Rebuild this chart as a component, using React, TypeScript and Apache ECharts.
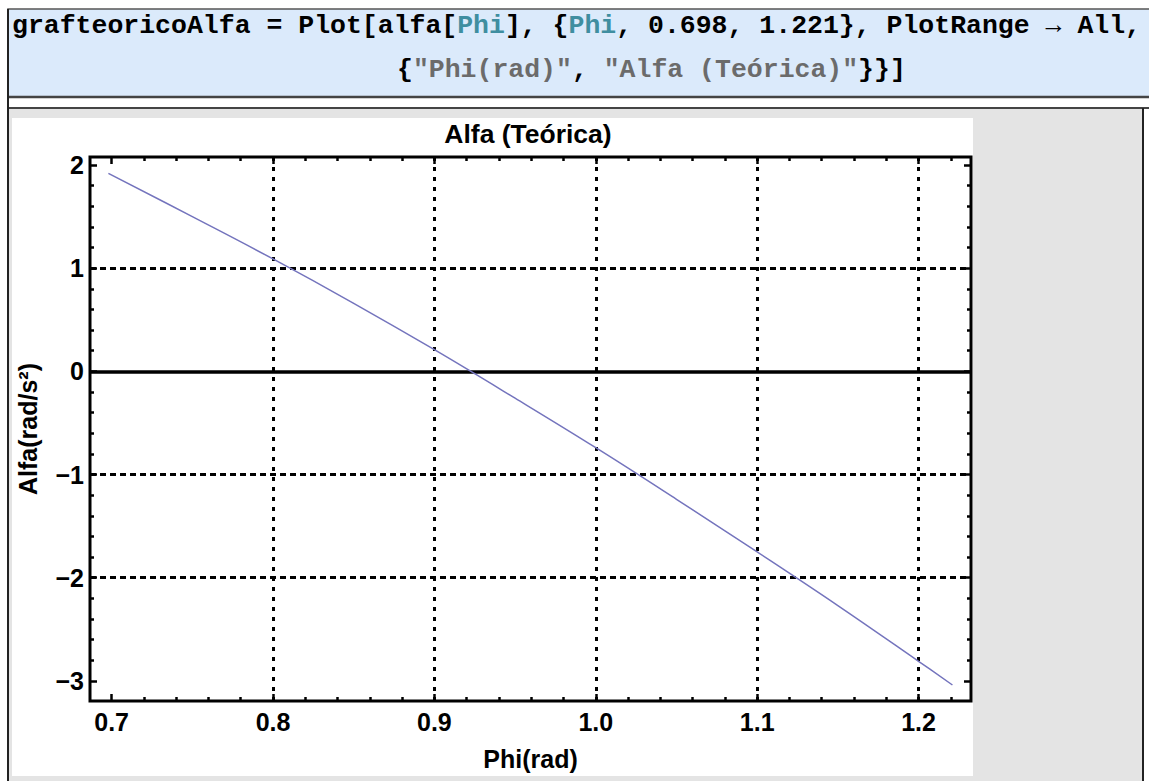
import React, { useEffect, useRef } from "react";
import * as echarts from "echarts";

// ---- data ----
const phiValues = [0.698, 0.75, 0.8, 0.85, 0.9, 0.95, 1.0, 1.05, 1.1, 1.15, 1.2, 1.221];
const alfaValues = [1.92, 1.5, 1.09, 0.66, 0.21, -0.26, -0.74, -1.24, -1.75, -2.27, -2.81, -3.04];
const xMajorTicks = [0.7, 0.8, 0.9, 1.0, 1.1, 1.2];
const xMinorTicks = [0.72, 0.74, 0.76, 0.78, 0.82, 0.84, 0.86, 0.88, 0.92, 0.94, 0.96, 0.98, 1.02, 1.04, 1.06, 1.08, 1.12, 1.14, 1.16, 1.18, 1.22];
const yMajorTicks = [-3, -2, -1, 0, 1, 2];
const yMinorTicks = [-2.8, -2.6, -2.4, -2.2, -1.8, -1.6, -1.4, -1.2, -0.8, -0.6, -0.4, -0.2, 0.2, 0.4, 0.6, 0.8, 1.2, 1.4, 1.6, 1.8];
const xGridLines = [0.8, 0.9, 1.0, 1.1, 1.2];
const yGridLines = [-2, -1, 1];
const xRange = [0.6866, 1.2325];
const yRange = [-3.195, 2.078];
const plotTitle = "Alfa (Teórica)";
const xName = "Phi(rad)";
const yName = "Alfa(rad/s²)";

const FONT = 'Arial, "Liberation Sans", Helvetica, sans-serif';
const MONO = '"Liberation Mono", "Courier New", monospace';

const CODE_FS = 26.5;
const CW = CODE_FS * 0.6;

function codeText(col: number, x0: number, y: number, text: string, color: string) {
  return {
    type: "text",
    x: x0 + col * CW,
    y,
    z: 10,
    style: {
      text,
      fill: color,
      font: `bold ${CODE_FS}px ${MONO}`,
      verticalAlign: "middle",
    },
  };
}

export default function App() {
  const ref = useRef<HTMLDivElement>(null);

  useEffect(() => {
    if (!ref.current) return;
    const chart = echarts.init(ref.current, null, { renderer: "svg" });

    const data = phiValues.map((p, i) => [p, alfaValues[i]]);
    const minus = (v: number) => (v < 0 ? "\u2212" + Math.abs(v) : String(v));

    const tickStyle = { color: "#000", width: 2.5 };
    const labelStyle = { color: "#000", fontSize: 25, fontWeight: "bold" as const, fontFamily: FONT };

    const mkX = (pos: "bottom" | "top", major: boolean, withLabel: boolean, extra: any = {}) => ({
      type: "value",
      position: pos,
      min: xRange[0],
      max: xRange[1],
      axisLine: { show: false, onZero: false },
      splitLine: { show: false },
      axisTick: {
        show: true,
        inside: true,
        length: major ? 7 : 4,
        lineStyle: tickStyle,
        customValues: major ? xMajorTicks : xMinorTicks,
      },
      axisLabel: withLabel
        ? { show: true, customValues: xMajorTicks, formatter: (v: number) => v.toFixed(1), margin: 8, ...labelStyle }
        : { show: false },
      ...extra,
    });
    const mkY = (pos: "left" | "right", major: boolean, withLabel: boolean, extra: any = {}) => ({
      type: "value",
      position: pos,
      min: yRange[0],
      max: yRange[1],
      axisLine: { show: false, onZero: false },
      splitLine: { show: false },
      axisTick: {
        show: true,
        inside: true,
        length: major ? 7 : 4,
        lineStyle: tickStyle,
        customValues: major ? yMajorTicks : yMinorTicks,
      },
      axisLabel: withLabel
        ? { show: true, customValues: yMajorTicks, formatter: minus, margin: 6, ...labelStyle }
        : { show: false },
      ...extra,
    });

    const gridLines: any[] = [];
    xGridLines.forEach((v) =>
      gridLines.push({ xAxis: v, lineStyle: { color: "#000", width: 3, type: [4, 6] } })
    );
    yGridLines.forEach((v) =>
      gridLines.push({ yAxis: v, lineStyle: { color: "#000", width: 3, type: [6, 4] } })
    );
    gridLines.push({ yAxis: 0, lineStyle: { color: "#000", width: 3.5, type: "solid" } });

    const x2 = 397;
    const option: any = {
      animation: false,
      backgroundColor: "#ffffff",
      grid: {
        left: 90,
        top: 157,
        width: 881,
        height: 544,
        show: true,
        borderColor: "#000",
        borderWidth: 3,
        backgroundColor: "transparent",
        z: 5,
      },
      xAxis: [
        mkX("bottom", true, true, {
          name: xName,
          nameLocation: "middle",
          nameGap: 45,
          nameTextStyle: { ...labelStyle },
        }),
        mkX("bottom", false, false),
        mkX("top", true, false),
        mkX("top", false, false),
      ],
      yAxis: [
        mkY("left", true, true, {
          name: yName,
          nameLocation: "middle",
          nameGap: 50,
          nameTextStyle: { ...labelStyle },
        }),
        mkY("left", false, false),
        mkY("right", true, false),
        mkY("right", false, false),
      ],
      series: [
        {
          type: "line",
          xAxisIndex: 0,
          yAxisIndex: 0,
          data,
          smooth: 0.4,
          showSymbol: false,
          lineStyle: { color: "#7474bd", width: 1.5 },
          z: 4,
          markLine: {
            silent: true,
            symbol: "none",
            label: { show: false },
            data: gridLines,
            z: 3,
          },
        },
      ],
      graphic: [
        // notebook background pieces
        { type: "rect", z: -100, shape: { x: 0, y: 0, width: 1149, height: 781 }, style: { fill: "#ffffff" } },
        { type: "rect", z: -99, shape: { x: 8, y: 9, width: 1145, height: 88 }, style: { fill: "#dbeafb", stroke: "#555", lineWidth: 1.5 } },
        { type: "line", z: -98, shape: { x1: 8, y1: 97, x2: 1149, y2: 97 }, style: { stroke: "#444", lineWidth: 2.5 } },
        { type: "line", z: -98, shape: { x1: 8, y1: 108, x2: 1149, y2: 108 }, style: { stroke: "#444", lineWidth: 2 } },
        { type: "rect", z: -99, shape: { x: 8, y: 109, width: 1135, height: 672 }, style: { fill: "#e4e4e4" } },
        { type: "rect", z: -97, shape: { x: 12, y: 118, width: 961, height: 658 }, style: { fill: "#ffffff" } },
        { type: "line", z: -96, shape: { x1: 8, y1: 9, x2: 8, y2: 781 }, style: { stroke: "#222", lineWidth: 2 } },
        { type: "line", z: -96, shape: { x1: 1143, y1: 108, x2: 1143, y2: 781 }, style: { stroke: "#222", lineWidth: 2 } },
        // code line 1
        codeText(0, 12, 26, "grafteoricoAlfa = Plot[alfa[", "#000"),
        codeText(28, 12, 26, "Phi", "#3f8ea0"),
        codeText(31, 12, 26, "], {", "#000"),
        codeText(35, 12, 26, "Phi", "#3f8ea0"),
        codeText(38, 12, 26, ", 0.698, 1.221}, PlotRange \u2192 All,", "#000"),
        // code line 2
        codeText(0, x2, 70, "{", "#000"),
        codeText(1, x2, 70, '"Phi(rad)"', "#6b6b6b"),
        codeText(11, x2, 70, ", ", "#000"),
        codeText(13, x2, 70, '"Alfa (Teórica)"', "#6b6b6b"),
        codeText(29, x2, 70, "}}]", "#000"),
        // plot title
        {
          type: "text",
          x: 528,
          y: 134,
          z: 10,
          scaleX: 1.06,
          originX: 0,
          originY: 0,
          style: {
            text: plotTitle,
            fill: "#000",
            font: `bold 25px ${FONT}`,
            align: "center",
            verticalAlign: "middle",
          },
        },
      ],
    };

    chart.setOption(option);
    return () => chart.dispose();
  }, []);

  return (
    <div
      ref={ref}
      style={{ position: "fixed", left: 0, top: 0, width: 1149, height: 781 }}
    />
  );
}
